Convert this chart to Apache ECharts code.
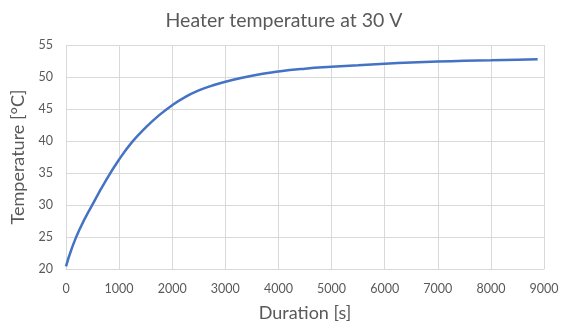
<!DOCTYPE html>
<html>
<head>
<meta charset="utf-8">
<script src="https://cdn.jsdelivr.net/npm/echarts@6/dist/echarts.min.js"></script>
<style>
  html, body { margin: 0; padding: 0; background: #fff; }
  #chart { width: 568px; height: 327px; }
</style>
</head>
<body>
<div id="chart"></div>
<script>
// Heater temperature log (duration in seconds, temperature in °C)
const durations = [0, 100, 250, 500, 750, 1000, 1250, 1500, 1750, 2000, 2250, 2500, 2750, 3000,
  3500, 4000, 4500, 5000, 5500, 6000, 6500, 7000, 7500, 8000, 8500, 8880];
const temperatures = [20.4, 23.0, 26.1, 30.1, 33.8, 37.1, 39.9, 42.1, 44.0, 45.6, 46.9, 47.9, 48.65, 49.25,
  50.2, 50.85, 51.3, 51.6, 51.85, 52.08, 52.26, 52.41, 52.53, 52.62, 52.71, 52.78];
const xTicks = [0, 1000, 2000, 3000, 4000, 5000, 6000, 7000, 8000, 9000];
const yTicks = [20, 25, 30, 35, 40, 45, 50, 55];

const textColor = '#595959';
const gridColor = '#d9d9d9';
const fontFamily = 'Lato, "Open Sans", sans-serif';

const chart = echarts.init(document.getElementById('chart'));
chart.setOption({
  animation: false,
  backgroundColor: '#ffffff',
  title: {
    text: 'Heater temperature at 30 V',
    left: 'center',
    top: 6,
    textStyle: { color: textColor, fontSize: 19.5, fontWeight: 'normal', fontFamily }
  },
  grid: { left: 66, right: 24, top: 45, bottom: 55 },
  xAxis: {
    type: 'value',
    min: xTicks[0],
    max: xTicks[xTicks.length - 1],
    interval: 1000,
    name: 'Duration [s]',
    nameLocation: 'middle',
    nameGap: 35,
    nameTextStyle: { color: textColor, fontSize: 18, fontFamily },
    axisLine: { show: true, lineStyle: { color: gridColor, width: 1 } },
    axisTick: { show: false },
    axisLabel: { color: textColor, fontSize: 12.5, fontFamily, margin: 13, formatter: v => String(v) },
    splitLine: { show: true, lineStyle: { color: gridColor, width: 1 } }
  },
  yAxis: {
    type: 'value',
    min: yTicks[0],
    max: yTicks[yTicks.length - 1],
    interval: 5,
    name: 'Temperature [°C]',
    nameLocation: 'middle',
    nameGap: 34,
    nameTextStyle: { color: textColor, fontSize: 18, fontFamily },
    axisLine: { show: false },
    axisTick: { show: false },
    axisLabel: { color: textColor, fontSize: 12.5, fontFamily, margin: 13, formatter: v => String(v) },
    splitLine: { show: true, lineStyle: { color: gridColor, width: 1 } }
  },
  series: [{
    type: 'line',
    data: durations.map((d, i) => [d, temperatures[i]]),
    smooth: 0.5,
    showSymbol: false,
    lineStyle: { color: '#4472c4', width: 2.5 },
    z: 5
  }]
});
</script>
</body>
</html>
